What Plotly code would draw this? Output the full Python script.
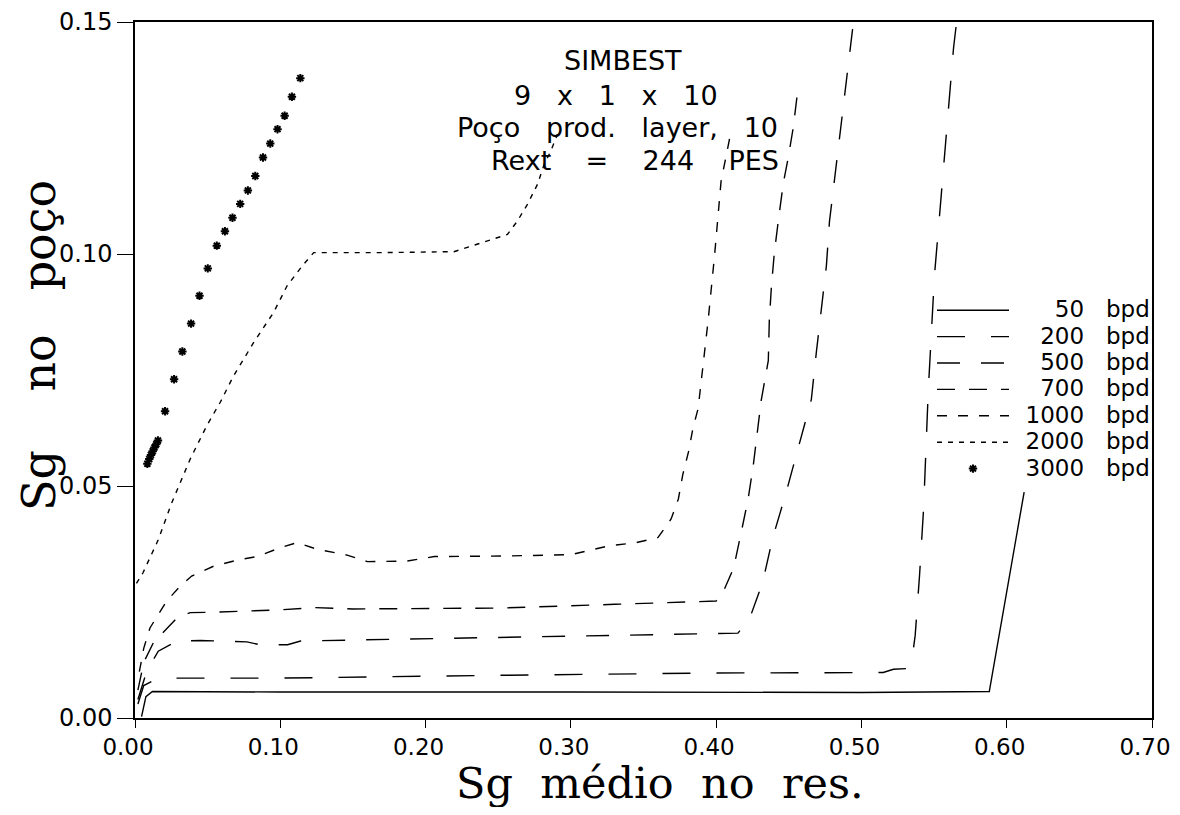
import plotly.graph_objects as go

# ---------------- data ----------------
rates = ["50", "200", "500", "700", "1000", "2000", "3000"]

x_50 = [0.0045, 0.0075, 0.012, 0.10, 0.30, 0.50, 0.588, 0.612]
y_50 = [0.0003, 0.0046, 0.0057, 0.0056, 0.0056, 0.0055, 0.0057, 0.0487]

x_200 = [0.002, 0.006, 0.016, 0.10, 0.25, 0.40, 0.515, 0.522, 0.534, 0.537, 0.540,
         0.5428, 0.546, 0.548, 0.5503, 0.5538, 0.557, 0.560, 0.5634, 0.5655]
y_200 = [0.003, 0.007, 0.0086, 0.0086, 0.0092, 0.0097, 0.0098, 0.0105, 0.0107, 0.0178,
         0.0307, 0.0452, 0.0705, 0.0813, 0.0955, 0.1084, 0.1207, 0.132, 0.1444, 0.150]

x_500 = [0.002, 0.008, 0.016, 0.029, 0.045, 0.077, 0.086, 0.105, 0.114, 0.25, 0.35,
         0.40, 0.415, 0.423, 0.432, 0.439, 0.448, 0.4566, 0.4655, 0.469, 0.4724,
         0.4759, 0.478, 0.4814, 0.486, 0.4897, 0.493, 0.4945]
y_500 = [0.004, 0.010, 0.0144, 0.0166, 0.0167, 0.0164, 0.0158, 0.0158, 0.0166, 0.0173,
         0.0178, 0.0182, 0.0183, 0.0214, 0.0292, 0.0389, 0.0484, 0.0584, 0.0686, 0.0789,
         0.0882, 0.0975, 0.107, 0.116, 0.1276, 0.1377, 0.147, 0.150]

x_700 = [0.002, 0.006, 0.0126, 0.029, 0.038, 0.054, 0.10, 0.123, 0.15, 0.252, 0.33,
         0.39, 0.400, 0.405, 0.412, 0.417, 0.422, 0.4255, 0.431, 0.4359, 0.4366,
         0.438, 0.440, 0.4428, 0.4462, 0.4497, 0.4531, 0.4566]
y_700 = [0.006, 0.012, 0.0162, 0.0216, 0.0227, 0.0228, 0.0233, 0.0238, 0.0235, 0.0237,
         0.0245, 0.0250, 0.0252, 0.0273, 0.0323, 0.0396, 0.0472, 0.0543, 0.0684, 0.0770,
         0.0857, 0.0928, 0.1001, 0.1072, 0.1152, 0.1209, 0.1273, 0.1364]

x_1000 = [0.003, 0.006, 0.0103, 0.0218, 0.031, 0.039, 0.054, 0.070, 0.084, 0.100,
          0.1115, 0.125, 0.146, 0.160, 0.187, 0.206, 0.252, 0.30, 0.326, 0.345, 0.36,
          0.369, 0.374, 0.377, 0.381, 0.384, 0.3876, 0.3917, 0.3945, 0.399, 0.4034,
          0.4103]
y_1000 = [0.010, 0.015, 0.0194, 0.0252, 0.0284, 0.0306, 0.0327, 0.0340, 0.0348, 0.0367,
          0.0378, 0.0364, 0.0351, 0.0337, 0.0338, 0.0348, 0.0349, 0.0352, 0.0371, 0.0378,
          0.0389, 0.0429, 0.0472, 0.0524, 0.0574, 0.0624, 0.0667, 0.0783, 0.0857, 0.100,
          0.1157, 0.1265]

x_2000 = [0.001, 0.0055, 0.016, 0.0253, 0.038, 0.0494, 0.0586, 0.0678, 0.0816, 0.0954,
          0.1046, 0.115, 0.123, 0.17, 0.2195, 0.231, 0.247, 0.2563, 0.2632, 0.2701,
          0.277, 0.2816, 0.2862, 0.2908]
y_2000 = [0.029, 0.0313, 0.0384, 0.0464, 0.0558, 0.0630, 0.0680, 0.0737, 0.0809, 0.0874,
          0.0931, 0.0974, 0.1003, 0.1003, 0.1005, 0.1017, 0.1033, 0.1042, 0.1071, 0.1107,
          0.1150, 0.1193, 0.1222, 0.1258]

x_3000 = [0.0085, 0.0098, 0.011, 0.0122, 0.0134, 0.0146, 0.0158, 0.0207, 0.0269, 0.0326,
          0.0386, 0.0444, 0.0501, 0.0563, 0.0619, 0.0671, 0.0724, 0.0777, 0.0828, 0.0881,
          0.0931, 0.0981, 0.103, 0.108, 0.1138]
y_3000 = [0.0548, 0.0558, 0.0567, 0.0575, 0.0583, 0.0590, 0.0598, 0.0661, 0.0730, 0.0790,
          0.0850, 0.0910, 0.0969, 0.1018, 0.1049, 0.1078, 0.1108, 0.1137, 0.1168, 0.1208,
          0.1238, 0.1269, 0.1298, 0.1339, 0.1379]

x_ticks = [0.0, 0.1, 0.2, 0.3, 0.4, 0.5, 0.6, 0.7]
x_ticktext = ["0.00", "0.10", "0.20", "0.30", "0.40", "0.50", "0.60", "0.70"]
y_ticks = [0.0, 0.05, 0.10, 0.15]
y_ticktext = ["0.00", "0.05", "0.10", "0.15"]

note_lines = ["SIMBEST", "9   x   1   x   10", "Poço   prod.   layer,   10",
              "Rext    =    244    PES"]

# ---------------- figure ----------------
ink = "black"
sans = "DejaVu Sans"
serif = "DejaVu Serif"
FIG = "\u2007"

# the page body keeps its default 8 px margin; keep the figure inside the window
PAGE_OFF = 8
PLOT_L, PLOT_T, PLOT_W, PLOT_H = 135, 22, 1017, 696   # target plot box in the window
FIG_W, FIG_H = 1180 - 2 * PAGE_OFF, 815 - 2 * PAGE_OFF


def px_x(px):
    return (px - PLOT_L) / PLOT_W


def px_y(py):
    return (PLOT_T + PLOT_H - py) / PLOT_H


def legend_label(rate):
    pad = FIG * (4 - len(rate))
    return '<span style="font-size:23px">\u2002' + pad + rate + "   bpd</span>"


fig = go.Figure()
dashes = ["solid", "28px,26px", "23px,21px", "18px,14px", "10px,11px", "5px,6px"]
series = [(x_50, y_50), (x_200, y_200), (x_500, y_500), (x_700, y_700),
          (x_1000, y_1000), (x_2000, y_2000)]
for (xs, ys), rate, dash in zip(series, rates[:6], dashes):
    fig.add_trace(go.Scatter(x=xs, y=ys, mode="lines", name=legend_label(rate),
                             line=dict(color=ink, width=1.4, dash=dash)))
fig.add_trace(go.Scatter(x=x_3000, y=y_3000, mode="markers", name=legend_label(rates[6]),
                         marker=dict(symbol="asterisk", size=7, color=ink,
                                     line=dict(color=ink, width=2))))

note_x = [623, 616, 617, 635]
note_y = [61, 95, 127, 160]
annotations = []
for txt, px, py in zip(note_lines, note_x, note_y):
    annotations.append(dict(text=txt, xref="paper", yref="paper",
                            x=px_x(px), y=px_y(py), showarrow=False,
                            xanchor="center", yanchor="middle",
                            font=dict(family=sans, size=27, color=ink)))
annotations.append(dict(text="Sg  médio  no  res.", xref="paper", yref="paper",
                        x=px_x(660), y=px_y(783), showarrow=False,
                        xanchor="center", yanchor="middle",
                        font=dict(family=serif, size=43, color=ink)))
annotations.append(dict(text="Sg    no   poço", xref="paper", yref="paper",
                        x=px_x(39), y=px_y(346), showarrow=False,
                        xanchor="center", yanchor="middle", textangle=-90,
                        font=dict(family=serif, size=46, color=ink)))

fig.update_layout(
    width=FIG_W, height=FIG_H,
    margin=dict(l=PLOT_L - PAGE_OFF, t=PLOT_T - PAGE_OFF,
                r=FIG_W - (PLOT_L - PAGE_OFF) - PLOT_W,
                b=FIG_H - (PLOT_T - PAGE_OFF) - PLOT_H, autoexpand=False),
    paper_bgcolor="white", plot_bgcolor="white",
    font=dict(family=sans, color=ink, size=20),
    showlegend=True,
    legend=dict(x=px_x(932), xanchor="left", y=px_y(292), yanchor="top",
                bgcolor="rgba(0,0,0,0)", borderwidth=0,
                font=dict(family=sans, size=18, color=ink),
                itemwidth=72, tracegroupgap=0),
    xaxis=dict(range=[0, 0.7], tickvals=x_ticks, ticktext=x_ticktext,
               showgrid=False, zeroline=False, showline=True, linecolor=ink,
               linewidth=1.5, mirror=True, ticks="outside", ticklen=8,
               tickwidth=1.2, tickcolor=ink, automargin=False, ticklabelstandoff=0,
               ticklabelshift=-7,
               tickfont=dict(family=sans, size=23, color=ink)),
    yaxis=dict(range=[0, 0.15], tickvals=y_ticks, ticktext=y_ticktext,
               showgrid=False, zeroline=False, showline=True, linecolor=ink,
               linewidth=1.5, mirror=True, ticks="outside", ticklen=16,
               tickwidth=1.2, tickcolor=ink, automargin=False,
               tickfont=dict(family=sans, size=24, color=ink)),
    annotations=annotations,
)

fig.write_html("out.html")
